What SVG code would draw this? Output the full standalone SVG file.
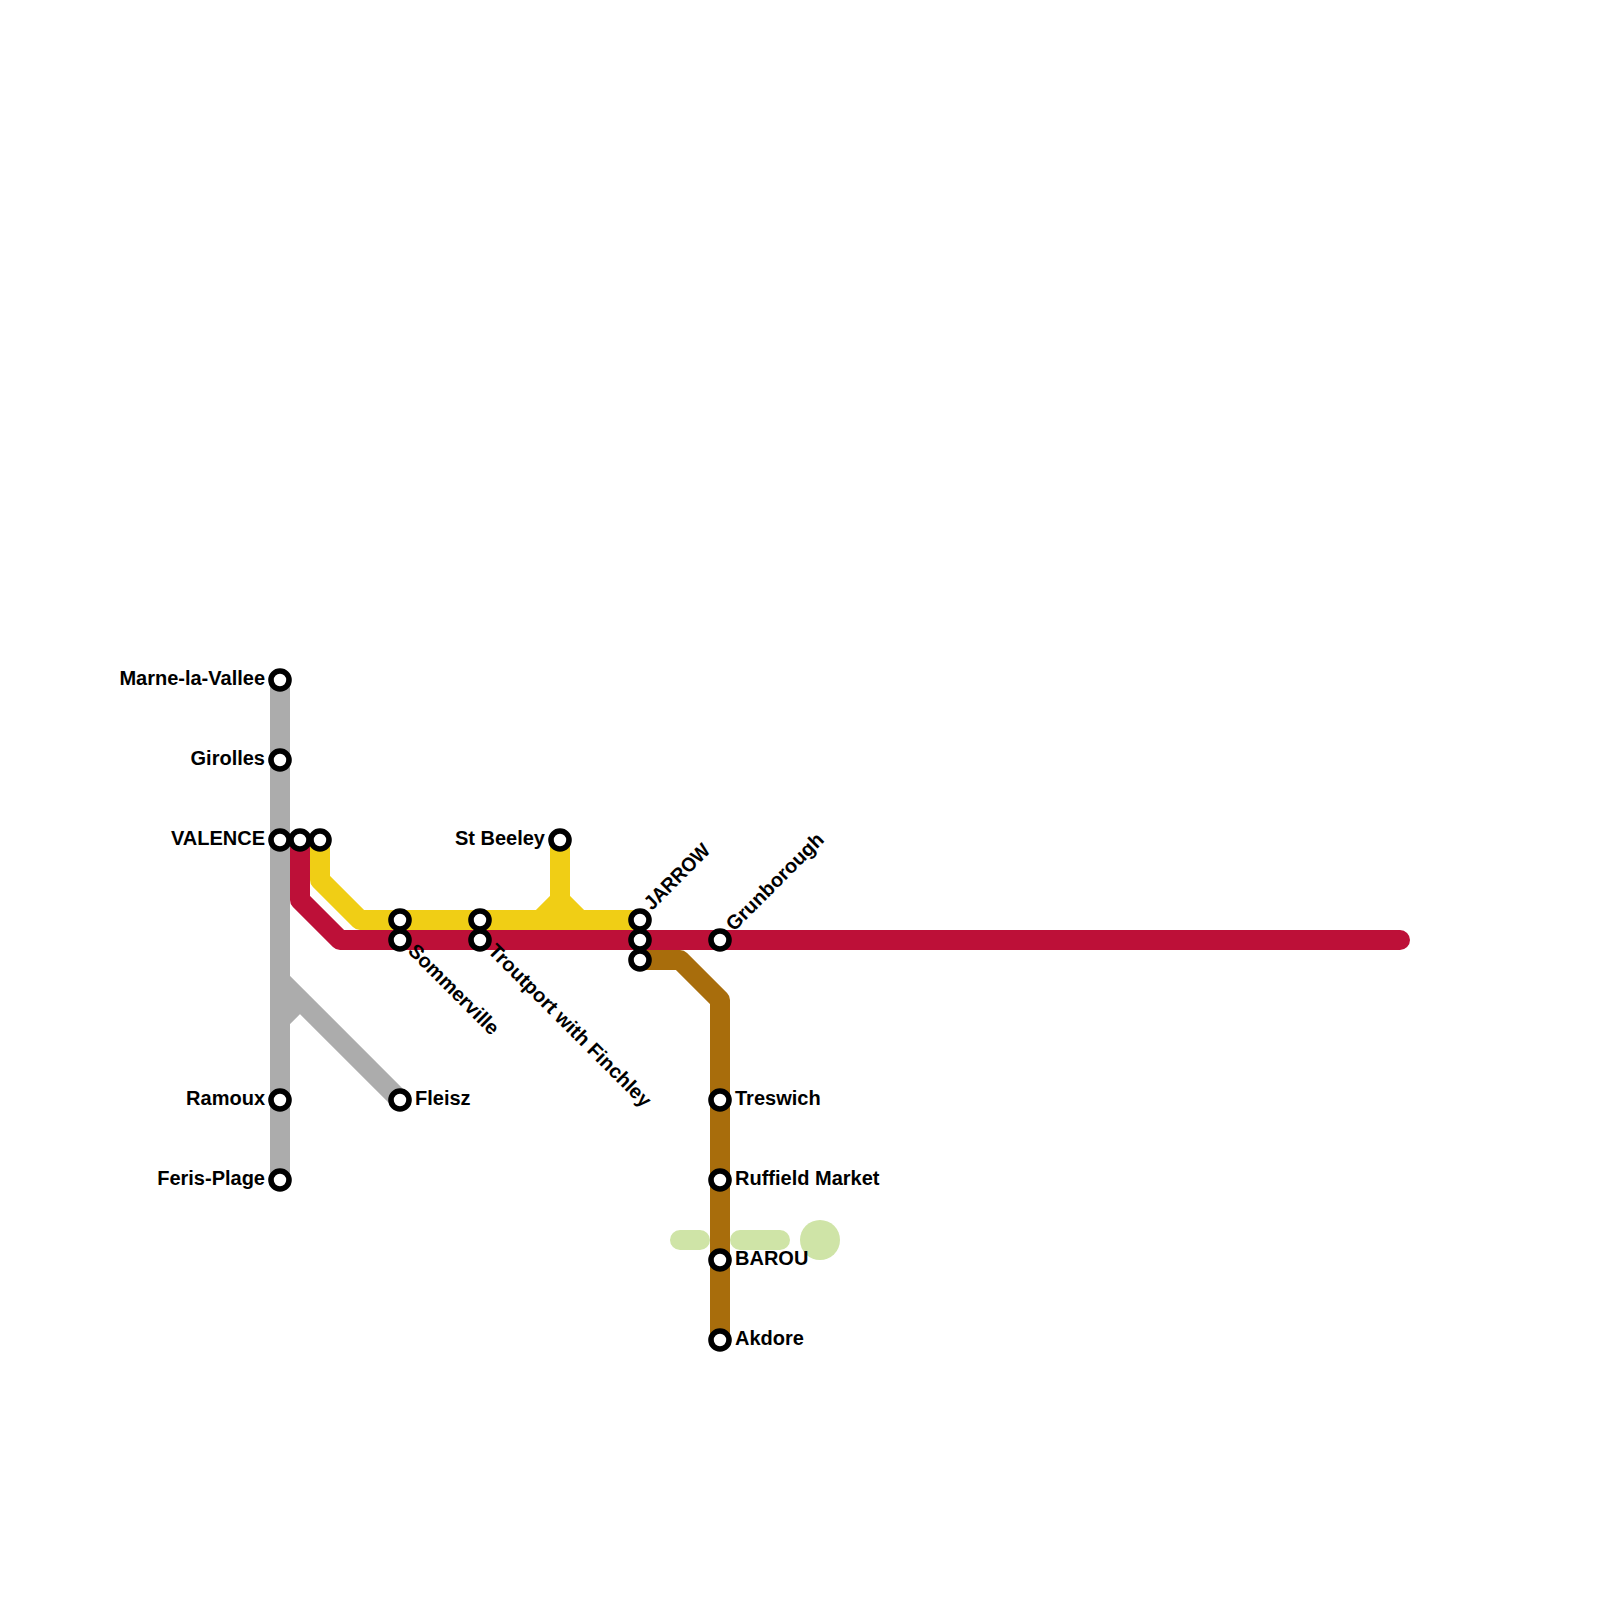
<svg xmlns="http://www.w3.org/2000/svg" width="1600" height="1600" viewBox="0 0 1600 1600">
<style>
.l{fill:none;stroke-width:20;stroke-linejoin:round;stroke-linecap:round}
.b{stroke-linecap:butt}
.s{fill:#fff;stroke:#000;stroke-width:5.6}
text{font-family:"Liberation Sans",Arial,sans-serif;font-weight:700;font-size:20px;fill:#000}
.e{text-anchor:end}
</style>
<rect width="1600" height="1600" fill="#fff"/>
<g id="connectors">
<g id="park" stroke="#cfe4a7">
<path class="l" d="M680 1240H700M740 1240H780"/>
<circle cx="820" cy="1240" r="20" fill="#cfe4a7" stroke="none"/>
</g>
<path id="line-grey" class="l b" stroke="#acacac" d="M280 680V1180M280 980L400 1100M280 1020L300 1000"/>
<path id="line-yellow" class="l b" stroke="#f0ce15" d="M320 840V880L360 920H640M560 840V900L540 920M560 900L580 920"/>
<path id="line-brown" class="l b" stroke="#a86d0c" d="M640 960H680L720 1000V1340"/>
<path id="line-red" class="l" stroke="#bd1038" d="M300 840V900L340 940H1400"/>
</g>
<g id="n-marne"><circle class="s" cx="280" cy="680" r="9"/><text class="e" x="265" y="685">Marne-la-Vallee</text></g>
<g id="n-girolles"><circle class="s" cx="280" cy="760" r="9"/><text class="e" x="265" y="765">Girolles</text></g>
<g id="n-valence"><circle class="s" cx="280" cy="840" r="9"/><text class="e" x="265" y="845">VALENCE</text></g>
<g id="n-a"><circle class="s" cx="300" cy="840" r="9"/></g>
<g id="n-b"><circle class="s" cx="320" cy="840" r="9"/></g>
<g id="n-ramoux"><circle class="s" cx="280" cy="1100" r="9"/><text class="e" x="265" y="1105">Ramoux</text></g>
<g id="n-feris"><circle class="s" cx="280" cy="1180" r="9"/><text class="e" x="265" y="1185">Feris-Plage</text></g>
<g id="n-fleisz"><circle class="s" cx="400" cy="1100" r="9"/><text x="415" y="1105">Fleisz</text></g>
<g id="n-c"><circle class="s" cx="400" cy="920" r="9"/></g>
<g id="n-sommerville"><circle class="s" cx="400" cy="940" r="9"/><text transform="translate(407 952) rotate(45)">Sommerville</text></g>
<g id="n-d"><circle class="s" cx="480" cy="920" r="9"/></g>
<g id="n-troutport"><circle class="s" cx="480" cy="940" r="9"/><text transform="translate(487 952) rotate(45)">Troutport with Finchley</text></g>
<g id="n-beeley"><circle class="s" cx="560" cy="840" r="9"/><text class="e" x="545" y="845">St Beeley</text></g>
<g id="n-jarrow"><circle class="s" cx="640" cy="920" r="9"/><text transform="translate(652 911) rotate(-45)" textLength="84" lengthAdjust="spacingAndGlyphs">JARROW</text></g>
<g id="n-e"><circle class="s" cx="640" cy="940" r="9"/></g>
<g id="n-f"><circle class="s" cx="640" cy="960" r="9"/></g>
<g id="n-grunborough"><circle class="s" cx="720" cy="940" r="9"/><text transform="translate(734 932) rotate(-45)">Grunborough</text></g>
<g id="n-treswich"><circle class="s" cx="720" cy="1100" r="9"/><text x="735" y="1105">Treswich</text></g>
<g id="n-ruffield"><circle class="s" cx="720" cy="1180" r="9"/><text x="735" y="1185">Ruffield Market</text></g>
<g id="n-barou"><circle class="s" cx="720" cy="1260" r="9"/><text x="735" y="1265">BAROU</text></g>
<g id="n-akdore"><circle class="s" cx="720" cy="1340" r="9"/><text x="735" y="1345">Akdore</text></g>
</svg>
